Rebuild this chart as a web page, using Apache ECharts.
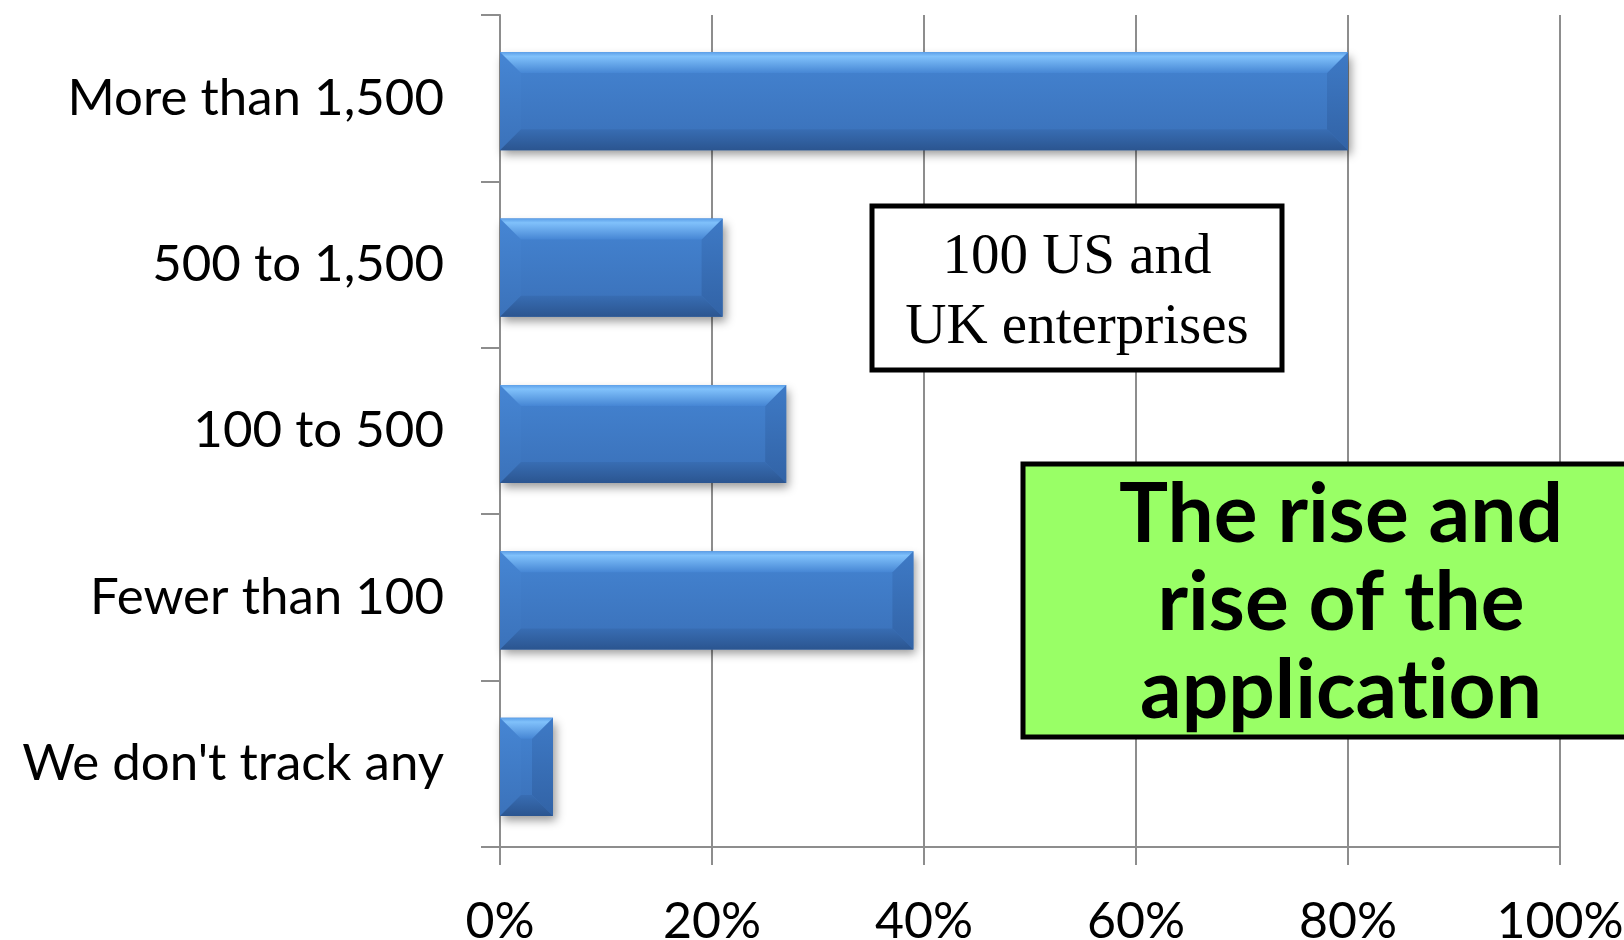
<!DOCTYPE html>
<html>
<head>
<meta charset="utf-8">
<script src="https://cdn.jsdelivr.net/npm/echarts@6/dist/echarts.min.js"></script>
<style>
html,body{margin:0;padding:0;background:#fff;}
#chart{width:1624px;height:940px;}
</style>
</head>
<body>
<div id="chart"></div>
<script>
var categories = ['More than 1,500', '500 to 1,500', '100 to 500', 'Fewer than 100', "We don't track any"];
var values = [80, 21, 27, 39, 5];
var xTicks = [0, 20, 40, 60, 80, 100];
var noteText = '100 US and\nUK enterprises';
var headlineText = 'The rise and\nrise of the\napplica{k|t}ion';

var chart = echarts.init(document.getElementById('chart'), null, {renderer: 'canvas'});

function grad(c0, c1) {
  return new echarts.graphic.LinearGradient(0, 0, 0, 1, [{offset: 0, color: c0}, {offset: 1, color: c1}]);
}

function renderBar(params, api) {
  var cat = api.value(0);
  var v = api.value(1);
  var p0 = api.coord([0, cat]);
  var p1 = api.coord([v, cat]);
  var band = api.size([0, 1])[1];
  var h = band * 0.59;
  var x0 = p0[0], x1 = p1[0];
  var y0 = p0[1] - h / 2 + 3, y1 = p0[1] + h / 2 + 3;
  var b = Math.min(21, (x1 - x0) / 2, h / 2);
  return {
    type: 'group',
    children: [
      {type: 'rect', shape: {x: x0, y: y0, width: x1 - x0, height: h},
        style: {fill: grad('#4484d2', '#3a70b8'), shadowBlur: 9, shadowColor: 'rgba(0,0,0,0.4)', shadowOffsetX: 3, shadowOffsetY: 5}},
      {type: 'polygon', shape: {points: [[x0, y0], [x0 + b, y0 + b], [x0 + b, y1 - b], [x0, y1]]},
        style: {fill: grad('#4686d4', '#3b72ba')}},
      {type: 'polygon', shape: {points: [[x1, y0], [x1 - b, y0 + b], [x1 - b, y1 - b], [x1, y1]]},
        style: {fill: grad('#3e7ac6', '#3263a6')}},
      {type: 'polygon', shape: {points: [[x0, y0], [x1, y0], [x1 - b, y0 + b], [x0 + b, y0 + b]]},
        style: {fill: new echarts.graphic.LinearGradient(0, 0, 0, 1, [
          {offset: 0, color: '#5c9fe8'}, {offset: 0.2, color: '#80c1fb'}, {offset: 1, color: '#4686d4'}])}},
      {type: 'polygon', shape: {points: [[x0, y1], [x1, y1], [x1 - b, y1 - b], [x0 + b, y1 - b]]},
        style: {fill: grad('#386db3', '#2b5590')}}
    ]
  };
}

var gridColor = '#8d8d8d';

var option = {
  backgroundColor: '#ffffff',
  animation: false,
  grid: {left: 500, right: 64, top: 15, bottom: 93, containLabel: false, outerBoundsMode: 'none'},
  xAxis: {
    type: 'value', min: 0, max: 100, interval: 20,
    axisLine: {show: true, lineStyle: {color: gridColor, width: 2}},
    axisTick: {show: true, length: 18, lineStyle: {color: gridColor, width: 2}},
    splitLine: {show: true, lineStyle: {color: gridColor, width: 2}},
    axisLabel: {formatter: '{value}%', margin: 50, color: '#000', fontFamily: 'Lato', fontSize: 50}
  },
  yAxis: {
    type: 'category', data: categories, inverse: true,
    axisLine: {show: true, lineStyle: {color: gridColor, width: 2}},
    axisTick: {show: true, length: 19, lineStyle: {color: gridColor, width: 2}},
    axisLabel: {margin: 56, color: '#000', fontFamily: 'Lato', fontSize: 51}
  },
  series: [{
    type: 'custom',
    renderItem: renderBar,
    encode: {x: 1, y: 0},
    data: values.map(function (v, i) { return [i, v]; }),
    z: 3
  }],
  graphic: [
    {type: 'rect', z: 100, shape: {x: 872, y: 206, width: 410, height: 164},
      style: {fill: '#ffffff', stroke: '#000000', lineWidth: 5}},
    {type: 'text', z: 101, x: 1077, y: 293,
      style: {text: noteText, fill: '#000', font: '57px "Liberation Serif"', lineHeight: 70, align: 'center', verticalAlign: 'middle'}},
    {type: 'rect', z: 100, shape: {x: 1023, y: 464, width: 700, height: 273},
      style: {fill: '#99ff66', stroke: '#000000', lineWidth: 5}},
    {type: 'text', z: 101, x: 1341, y: 604,
      style: {text: headlineText, fill: '#000', fontFamily: 'Lato', fontWeight: 'bold', fontSize: 82, lineHeight: 88,
        align: 'center', verticalAlign: 'middle',
        rich: {k: {fill: '#000', fontFamily: 'Lato', fontWeight: 'bold', fontSize: 82, lineHeight: 88}}}}
  ]
};
chart.setOption(option);
</script>
</body>
</html>
